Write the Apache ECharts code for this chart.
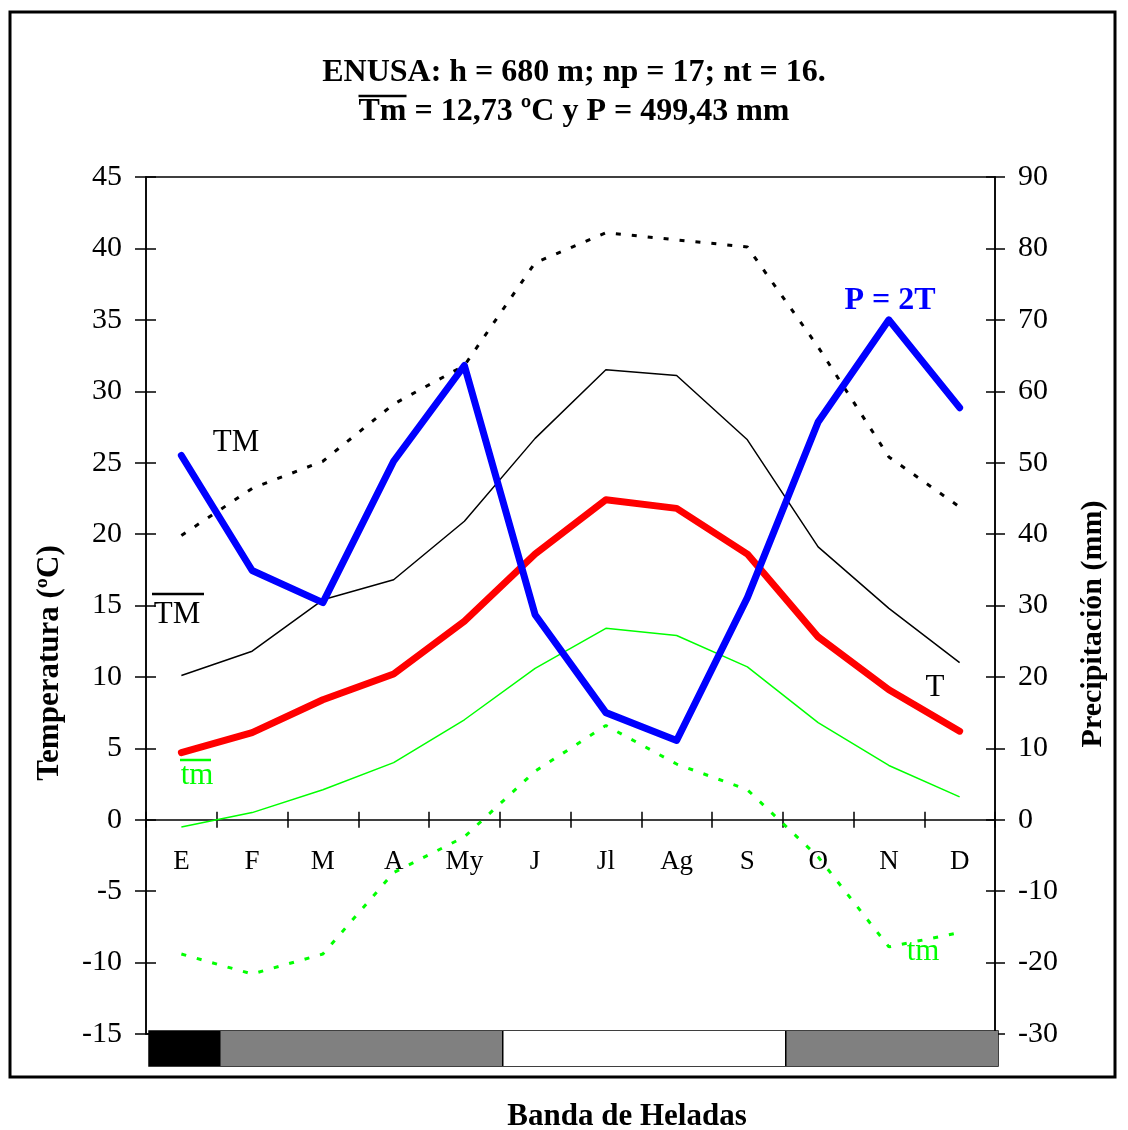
<!DOCTYPE html>
<html>
<head>
<meta charset="utf-8">
<script src="https://cdn.jsdelivr.net/npm/echarts@6/dist/echarts.min.js"></script>
<style>
  html, body { margin: 0; padding: 0; background: #fff; }
  #chart { width: 1128px; height: 1130px; }
</style>
</head>
<body>
<div id="chart"></div>
<script>
// Monthly climate data, ENUSA station
const months = ['E', 'F', 'M', 'A', 'My', 'J', 'Jl', 'Ag', 'S', 'O', 'N', 'D'];
// mean temperature T (ºC)
const tMean = [4.7, 6.1, 8.4, 10.2, 13.9, 18.6, 22.4, 21.8, 18.6, 12.8, 9.1, 6.2];
// mean of daily maxima (ºC)
const tMaxMean = [10.1, 11.8, 15.4, 16.8, 20.9, 26.7, 31.5, 31.1, 26.6, 19.1, 14.8, 11.0];
// mean of daily minima (ºC)
const tMinMean = [-0.5, 0.5, 2.1, 4.0, 7.0, 10.6, 13.4, 12.9, 10.7, 6.8, 3.8, 1.6];
// absolute maxima (ºC)
const tMaxAbs = [19.9, 23.2, 25.1, 29.1, 31.8, 39.0, 41.1, 40.6, 40.1, 33.1, 25.4, 21.9];
// absolute minima (ºC)
const tMinAbs = [-9.4, -10.8, -9.4, -3.7, -1.2, 3.4, 6.6, 3.9, 2.1, -2.6, -8.9, -7.9];
// precipitation P (mm)
const precip = [51.0, 34.9, 30.4, 50.2, 63.6, 28.7, 15.0, 11.1, 31.1, 55.7, 70.0, 57.7];
// frost band: 'seguro' (sure frost), 'probable', 'libre' (frost free)
const frost = ['seguro', 'probable', 'probable', 'probable', 'probable', 'libre', 'libre', 'libre', 'libre', 'probable', 'probable', 'probable'];
const frostColors = { seguro: '#000000', probable: '#808080', libre: '#ffffff' };

const tempTicks = { min: -15, max: 45, interval: 5 };
const precipTicks = { min: -30, max: 90, interval: 10 };

const FONT = '"Liberation Serif", "Times New Roman", serif';
const titleLine1 = 'ENUSA: h = 680 m; np = 17; nt = 16.';
const titleLine2 = 'Tm = 12,73 ºC y P = 499,43 mm';
const titleFont = 'bold 32px ' + FONT;
const titleX = 574;

// plot box (pixels)
const plotLeft = 146, plotRight = 133, plotTop = 177, plotBottom = 96;
const plotHeight = 1130 - plotTop - plotBottom;
// height from the top of the plot down to the 0 ºC line, where the month axis sits
const zeroOffset = plotHeight * tempTicks.max / (tempTicks.max - tempTicks.min);

// width of the title's second line and of its leading "Tm", for the overline
const measureCtx = document.createElement('canvas').getContext('2d');
measureCtx.font = titleFont;
const line2Width = measureCtx.measureText(titleLine2).width;
const tmWidth = measureCtx.measureText('Tm').width;
const overlineX0 = titleX - line2Width / 2;

const chart = echarts.init(document.getElementById('chart'), null, { renderer: 'canvas' });

const axisLineStyle = { color: '#000', width: 1.5 };
const hiddenAxis = { axisLine: { show: false }, axisTick: { show: false }, axisLabel: { show: false }, splitLine: { show: false } };

const option = {
  backgroundColor: '#fff',
  animation: false,
  textStyle: { fontFamily: FONT },
  grid: [
    { left: plotLeft, right: plotRight, top: plotTop, bottom: plotBottom, show: true, borderColor: '#000', borderWidth: 1.5 },
    { left: 149, right: 130, top: 1031, height: 35, show: true, borderColor: '#000', borderWidth: 1.5, backgroundColor: 'transparent' },
    { left: plotLeft, right: plotRight, top: plotTop, height: zeroOffset, show: false }
  ],
  xAxis: [
    Object.assign({ type: 'category', data: months, gridIndex: 0 }, hiddenAxis),
    Object.assign({ type: 'category', data: months, gridIndex: 1 }, hiddenAxis),
    {
      // month axis on the 0 ºC line, ticks below
      type: 'category', data: months, gridIndex: 2, position: 'bottom',
      axisLine: { show: true, onZero: false, lineStyle: axisLineStyle },
      axisTick: { show: true, length: 8, lineStyle: axisLineStyle },
      axisLabel: { fontFamily: FONT, fontSize: 27, color: '#000', margin: 29 },
      splitLine: { show: false }
    },
    {
      // ticks above the 0 ºC line
      type: 'category', data: months, gridIndex: 2, position: 'bottom',
      axisLine: { show: false, onZero: false },
      axisTick: { show: true, inside: true, length: 8, lineStyle: axisLineStyle },
      axisLabel: { show: false }, splitLine: { show: false }
    }
  ],
  yAxis: [
    {
      type: 'value', gridIndex: 0, position: 'left',
      min: tempTicks.min, max: tempTicks.max, interval: tempTicks.interval,
      axisLine: { show: true, onZero: false, lineStyle: axisLineStyle },
      axisTick: { show: true, length: 11, lineStyle: axisLineStyle },
      axisLabel: { fontFamily: FONT, fontSize: 30, color: '#000', margin: 24 },
      splitLine: { show: false }
    },
    {
      type: 'value', gridIndex: 0, position: 'right',
      min: precipTicks.min, max: precipTicks.max, interval: precipTicks.interval,
      axisLine: { show: true, onZero: false, lineStyle: axisLineStyle },
      axisTick: { show: true, length: 10, lineStyle: axisLineStyle },
      axisLabel: { fontFamily: FONT, fontSize: 30, color: '#000', margin: 23 },
      splitLine: { show: false }
    },
    {
      // inner half of the temperature ticks
      type: 'value', gridIndex: 0, position: 'left',
      min: tempTicks.min, max: tempTicks.max, interval: tempTicks.interval,
      axisLine: { show: false, onZero: false },
      axisTick: { show: true, inside: true, length: 10, lineStyle: axisLineStyle },
      axisLabel: { show: false }, splitLine: { show: false }
    },
    {
      // inner half of the precipitation ticks
      type: 'value', gridIndex: 0, position: 'right',
      min: precipTicks.min, max: precipTicks.max, interval: precipTicks.interval,
      axisLine: { show: false, onZero: false },
      axisTick: { show: true, inside: true, length: 9, lineStyle: axisLineStyle },
      axisLabel: { show: false }, splitLine: { show: false }
    },
    Object.assign({ type: 'value', gridIndex: 1, min: 0, max: 1 }, hiddenAxis),
    Object.assign({ type: 'value', gridIndex: 2, min: 0, max: 1 }, hiddenAxis)
  ],
  series: [
    {
      name: 'TM abs', type: 'line', data: tMaxAbs, xAxisIndex: 0, yAxisIndex: 0,
      showSymbol: false, symbol: 'none', z: 2,
      lineStyle: { color: '#000', width: 3, type: [5, 11] }
    },
    {
      name: 'tm abs', type: 'line', data: tMinAbs, xAxisIndex: 0, yAxisIndex: 0,
      showSymbol: false, symbol: 'none', z: 2,
      lineStyle: { color: '#00ff00', width: 3, type: [5, 11] }
    },
    {
      name: 'TM', type: 'line', data: tMaxMean, xAxisIndex: 0, yAxisIndex: 0,
      showSymbol: false, symbol: 'none', z: 3,
      lineStyle: { color: '#000', width: 1.5 }
    },
    {
      name: 'tm', type: 'line', data: tMinMean, xAxisIndex: 0, yAxisIndex: 0,
      showSymbol: false, symbol: 'none', z: 3,
      lineStyle: { color: '#00ff00', width: 1.5 }
    },
    {
      name: 'T', type: 'line', data: tMean, xAxisIndex: 0, yAxisIndex: 0,
      showSymbol: false, symbol: 'none', z: 4,
      lineStyle: { color: '#ff0000', width: 7, cap: 'round', join: 'round' }
    },
    {
      name: 'P', type: 'line', data: precip, xAxisIndex: 0, yAxisIndex: 1,
      showSymbol: false, symbol: 'none', z: 5,
      lineStyle: { color: '#0000ff', width: 7, cap: 'round', join: 'round' }
    },
    {
      name: 'Banda de Heladas', type: 'custom', xAxisIndex: 1, yAxisIndex: 4, z: 2,
      data: frost.map((f, i) => [i, 1, f]),
      renderItem: function (params, api) {
        const i = api.value(0);
        const cls = frost[i];
        // each run of equal months is drawn once, as one block
        if (i > 0 && frost[i - 1] === cls) return null;
        let n = 1;
        while (i + n < frost.length && frost[i + n] === cls) n++;
        const top = api.coord([i, 1]);
        const size = api.size([1, 1]);
        const x0 = top[0] - size[0] / 2;
        const children = [{
          type: 'rect',
          shape: { x: x0, y: top[1], width: size[0] * n, height: size[1] },
          style: { fill: frostColors[cls], stroke: null }
        }];
        if (i > 0) {
          children.push({
            type: 'line',
            shape: { x1: x0, y1: top[1], x2: x0, y2: top[1] + size[1] },
            style: { stroke: '#000', lineWidth: 1.5 }
          });
        }
        return { type: 'group', children: children };
      }
    }
  ],
  graphic: [
    { type: 'rect', shape: { x: 10, y: 12, width: 1105, height: 1065 }, style: { fill: null, stroke: '#000', lineWidth: 3 }, z: 100 },
    { type: 'text', x: titleX, y: 73, style: { text: titleLine1, font: titleFont, fill: '#000', textAlign: 'center', textVerticalAlign: 'middle' } },
    { type: 'text', x: titleX, y: 112, style: { text: titleLine2, font: titleFont, fill: '#000', textAlign: 'center', textVerticalAlign: 'middle' } },
    { type: 'line', shape: { x1: overlineX0, y1: 96, x2: overlineX0 + tmWidth, y2: 96 }, style: { stroke: '#000', lineWidth: 2.5 } },
    { type: 'text', x: 50, y: 663, rotation: Math.PI / 2, style: { text: 'Temperatura (ºC)', font: 'bold 31px ' + FONT, fill: '#000', textAlign: 'center', textVerticalAlign: 'middle' } },
    { type: 'text', x: 1093, y: 624, rotation: Math.PI / 2, style: { text: 'Precipitación (mm)', font: 'bold 30px ' + FONT, fill: '#000', textAlign: 'center', textVerticalAlign: 'middle' } },
    { type: 'text', x: 236, y: 443, style: { text: 'TM', font: '31px ' + FONT, fill: '#000', textAlign: 'center', textVerticalAlign: 'middle' } },
    { type: 'text', x: 177, y: 615, style: { text: 'TM', font: '31px ' + FONT, fill: '#000', textAlign: 'center', textVerticalAlign: 'middle' } },
    { type: 'line', shape: { x1: 152, y1: 594, x2: 204, y2: 594 }, style: { stroke: '#000', lineWidth: 2.5 } },
    { type: 'text', x: 197, y: 776, style: { text: 'tm', font: '31px ' + FONT, fill: '#00ff00', textAlign: 'center', textVerticalAlign: 'middle' } },
    { type: 'line', shape: { x1: 180, y1: 760, x2: 211, y2: 760 }, style: { stroke: '#00ff00', lineWidth: 2.5 } },
    { type: 'text', x: 935, y: 688, style: { text: 'T', font: '31px ' + FONT, fill: '#000', textAlign: 'center', textVerticalAlign: 'middle' } },
    { type: 'text', x: 890, y: 301, style: { text: 'P = 2T', font: 'bold 32px ' + FONT, fill: '#0000ff', textAlign: 'center', textVerticalAlign: 'middle' } },
    { type: 'text', x: 923, y: 952, style: { text: 'tm', font: '31px ' + FONT, fill: '#00ff00', textAlign: 'center', textVerticalAlign: 'middle' } },
    { type: 'text', x: 627, y: 1117, style: { text: 'Banda de Heladas', font: 'bold 31px ' + FONT, fill: '#000', textAlign: 'center', textVerticalAlign: 'middle' } }
  ]
};

chart.setOption(option);
</script>
</body>
</html>
